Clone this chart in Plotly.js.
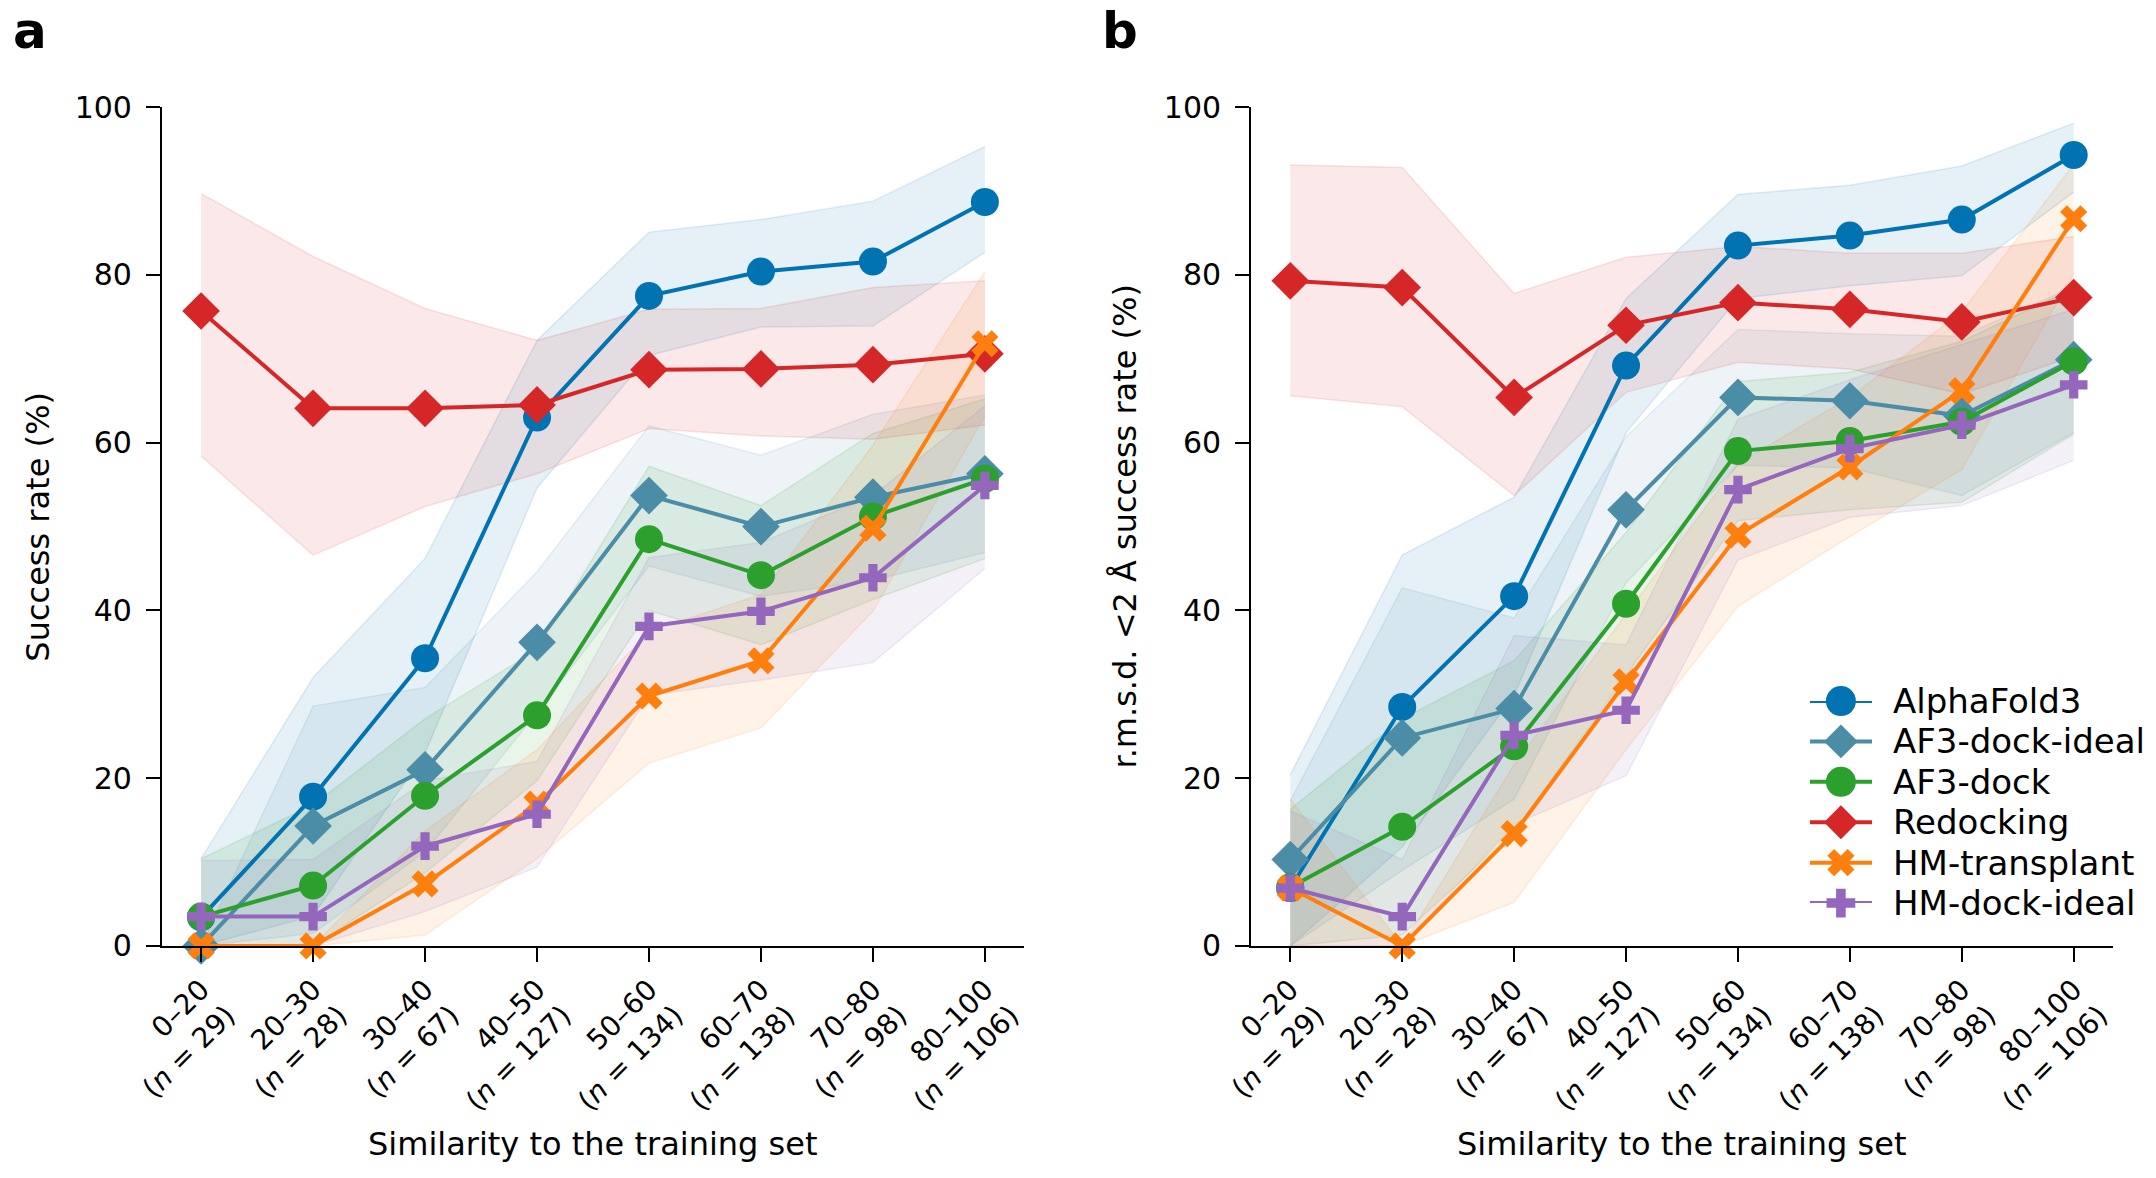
<!DOCTYPE html>
<html>
<head>
<meta charset="utf-8">
<script src="https://cdn.plot.ly/plotly-3.0.1.min.js"></script>
<style>
  html, body { margin: 0; padding: 0; background: #fff; }
  #chart { width: 2156px; height: 1178px; }
</style>
</head>
<body>
<div id="chart"></div>
<script>
// similarity bins and sample sizes (tick labels)
const bins = ["0–20", "20–30", "30–40", "40–50", "50–60", "60–70", "70–80", "80–100"];
const counts = [29, 28, 67, 127, 134, 138, 98, 106];

const methods = ["AlphaFold3", "AF3-dock-ideal", "AF3-dock", "Redocking", "HM-transplant", "HM-dock-ideal"];
const colors = ["#0173b2", "#4b8ca6", "#2ca02c", "#d62728", "#ff7f0e", "#9467bd"];
const symbols = ["circle", "diamond", "circle", "diamond", "x", "cross"];
const sizes = [28, 29, 28, 29, 24, 23];
const legend_sizes = [30, 26, 30, 26, 24, 24];

// panel a: success rate (%), with lower / upper band
const a_af3 = [3.4, 17.8, 34.3, 63.0, 77.5, 80.4, 81.6, 88.7];
const a_af3_lo = [0, 3.6, 23.0, 54.6, 70.4, 73.8, 73.9, 82.7];
const a_af3_hi = [10.4, 32.0, 46.2, 72.2, 85.1, 86.6, 88.8, 95.3];
const a_ideal = [0, 14.3, 21.0, 36.2, 53.7, 50.0, 53.5, 56.3];
const a_ideal_lo = [0, 1.5, 11.2, 27.8, 45.3, 41.7, 43.6, 46.9];
const a_ideal_hi = [0, 28.6, 30.8, 44.6, 62.0, 58.5, 63.4, 65.7];
const a_dock = [3.5, 7.2, 17.9, 27.5, 48.5, 44.2, 51.2, 55.7];
const a_dock_lo = [0, 0, 8.7, 19.7, 40.0, 35.9, 41.3, 46.2];
const a_dock_hi = [10.4, 16.8, 27.1, 35.3, 57.2, 52.5, 61.1, 65.2];
const a_redock = [75.7, 64.1, 64.1, 64.5, 68.7, 68.8, 69.3, 70.6];
const a_redock_lo = [58.4, 46.6, 52.4, 56.3, 61.7, 60.8, 60.4, 62.1];
const a_redock_hi = [89.7, 82.2, 76.0, 72.2, 75.9, 76.0, 78.5, 79.3];
const a_hmt = [0, 0, 7.4, 16.9, 29.8, 34.0, 49.8, 71.8];
const a_hmt_lo = [0, 0, 1.3, 10.4, 21.8, 26.0, 39.9, 63.2];
const a_hmt_hi = [0, 0, 13.7, 23.4, 37.5, 41.9, 59.7, 80.4];
const a_hmd = [3.5, 3.5, 11.9, 15.7, 38.1, 39.9, 43.9, 54.9];
const a_hmd_lo = [0, 0, 4.1, 9.4, 29.9, 31.7, 33.8, 45.0];
const a_hmd_hi = [10.2, 10.3, 19.7, 22.0, 46.3, 48.1, 53.7, 64.4];

// panel b: r.m.s.d. < 2 Å success rate (%)
const b_af3 = [6.9, 28.5, 41.7, 69.2, 83.5, 84.7, 86.6, 94.3];
const b_af3_lo = [0, 11.8, 29.9, 61.2, 77.2, 78.7, 79.9, 89.9];
const b_af3_hi = [20.4, 46.6, 53.5, 77.2, 89.6, 90.7, 93.0, 98.1];
const b_ideal = [10.3, 24.8, 28.3, 52.0, 65.4, 65.0, 63.2, 69.9];
const b_ideal_lo = [0, 9.0, 17.5, 43.3, 57.3, 57.0, 53.7, 61.2];
const b_ideal_hi = [17.3, 42.7, 39.1, 60.7, 73.5, 73.0, 72.7, 78.6];
const b_dock = [7.0, 14.2, 23.8, 40.8, 59.0, 60.2, 62.5, 69.7];
const b_dock_lo = [0, 1.3, 13.6, 32.3, 50.7, 52.0, 52.9, 61.0];
const b_dock_hi = [16.3, 27.1, 34.0, 49.3, 67.3, 68.4, 72.1, 78.4];
const b_redock = [79.3, 78.5, 65.4, 74.0, 76.7, 75.9, 74.4, 77.3];
const b_redock_lo = [65.6, 64.3, 53.7, 66.0, 69.6, 68.8, 65.8, 70.3];
const b_redock_hi = [93.1, 92.8, 77.8, 82.1, 83.4, 82.6, 82.6, 84.6];
const b_hmt = [6.9, 0, 13.4, 31.5, 49.0, 57.1, 66.2, 86.7];
const b_hmt_lo = [0, 0, 5.2, 23.4, 40.5, 48.8, 56.8, 80.2];
const b_hmt_hi = [17.5, 0, 21.6, 39.6, 57.5, 65.4, 75.6, 93.2];
const b_hmd = [6.9, 3.5, 25.1, 28.1, 54.4, 59.3, 62.1, 66.9];
const b_hmd_lo = [0, 0, 14.5, 20.3, 46.0, 51.1, 52.5, 57.9];
const b_hmd_hi = [16.1, 10.3, 37.0, 35.9, 62.8, 67.5, 71.7, 75.9];

const panel_a = [
    [a_af3, a_af3_lo, a_af3_hi], [a_ideal, a_ideal_lo, a_ideal_hi], [a_dock, a_dock_lo, a_dock_hi],
    [a_redock, a_redock_lo, a_redock_hi], [a_hmt, a_hmt_lo, a_hmt_hi], [a_hmd, a_hmd_lo, a_hmd_hi],
];
const panel_b = [
    [b_af3, b_af3_lo, b_af3_hi], [b_ideal, b_ideal_lo, b_ideal_hi], [b_dock, b_dock_lo, b_dock_hi],
    [b_redock, b_redock_lo, b_redock_hi], [b_hmt, b_hmt_lo, b_hmt_hi], [b_hmd, b_hmd_lo, b_hmd_hi],
];

const FONT = "'DejaVu Sans', 'Noto Sans', sans-serif";
const labels = bins.map((b, i) => b + "<br>(<i>n</i> = " + counts[i] + ")");

function rgba(hex, a) {
    let r = parseInt(hex.slice(1, 3), 16), g = parseInt(hex.slice(3, 5), 16), b = parseInt(hex.slice(5, 7), 16);
    return "rgba(" + r + "," + g + "," + b + "," + a + ")";
}

function panel_traces(panel, xa, ya) {
    let bands = [];
    let lines = [];
    panel.forEach(([y, lo, hi], k) => {
        let edge = {color: rgba(colors[k], 0.12), width: 1.5};
        bands.push({x: labels, y: lo, xaxis: xa, yaxis: ya, mode: "lines", line: edge,
                    showlegend: false, hoverinfo: "skip"});
        bands.push({x: labels, y: hi, xaxis: xa, yaxis: ya, mode: "lines", line: edge,
                    fill: "tonexty", fillcolor: rgba(colors[k], 0.1), showlegend: false, hoverinfo: "skip"});
        lines.push({
            x: labels, y: y, xaxis: xa, yaxis: ya, name: methods[k],
            showlegend: false, mode: "lines+markers", cliponaxis: false,
            line: {color: colors[k], width: 4},
            marker: {symbol: symbols[k], size: sizes[k], color: colors[k], opacity: 1, line: {width: 0}},
        });
    });
    return bands.concat(lines);
}

// legend key on a hidden axis: row = method index, a short line with the marker in its middle
function legend_traces() {
    let keys = [];
    methods.forEach((m, k) => {
        keys.push({
            x: [0, 1], y: [k, k], xaxis: "x3", yaxis: "y3", showlegend: false, hoverinfo: "skip",
            mode: "lines", cliponaxis: false, line: {color: colors[k], width: 4},
        });
        keys.push({
            x: [0.5], y: [k], xaxis: "x3", yaxis: "y3", showlegend: false, hoverinfo: "skip",
            mode: "markers", cliponaxis: false,
            marker: {symbol: symbols[k], size: legend_sizes[k], color: colors[k], opacity: 1, line: {width: 0}},
        });
    });
    return keys;
}

let data = panel_traces(panel_a, "x", "y")
    .concat(panel_traces(panel_b, "x2", "y2"))
    .concat(legend_traces());

function xaxis(domain, anchor) {
    return {
        domain: domain, anchor: anchor, type: "category", range: [-0.35, 7.35],
        showline: true, linecolor: "#000", linewidth: 2, ticks: "outside", ticklen: 14, tickwidth: 2,
        tickcolor: "#000", tickangle: -45, showgrid: false, zeroline: false, automargin: false,
        tickfont: {family: FONT, size: 28, color: "#000"},
    };
}
function yaxis(anchor) {
    return {
        domain: [0.197, 0.909], anchor: anchor, range: [0, 100], tickvals: [0, 20, 40, 60, 80, 100],
        showline: true, linecolor: "#000", linewidth: 2, ticks: "outside", ticklen: 14, tickwidth: 2,
        tickcolor: "#000", showgrid: false, zeroline: false, automargin: false, ticklabelstandoff: 8,
        tickfont: {family: FONT, size: 30, color: "#000"},
    };
}
let hidden = {visible: false, showgrid: false, zeroline: false, fixedrange: true};

let title_font = {family: FONT, size: 32, color: "#000"};
let legend_font = {family: FONT, size: 34, color: "#000"};
let annotations = [
    {text: "<b>a</b>", x: 0.005, y: 1.0, xref: "paper", yref: "paper", xanchor: "left", yanchor: "top",
     showarrow: false, font: {family: "'DejaVu Sans', sans-serif", size: 50, color: "#000"}},
    {text: "<b>b</b>", x: 0.510, y: 1.0, xref: "paper", yref: "paper", xanchor: "left", yanchor: "top",
     showarrow: false, font: {family: "'DejaVu Sans', sans-serif", size: 50, color: "#000"}},
    {text: "Success rate (%)", x: 0.0172, y: 0.553, xref: "paper", yref: "paper", textangle: -90,
     xanchor: "center", yanchor: "middle", showarrow: false, font: title_font},
    {text: "r.m.s.d. &lt;2 Å success rate (%)", x: 0.5218, y: 0.553, xref: "paper", yref: "paper",
     textangle: -90, xanchor: "center", yanchor: "middle", showarrow: false, font: title_font},
    {text: "Similarity to the training set", x: 0.275, y: 0.029, xref: "paper", yref: "paper",
     xanchor: "center", yanchor: "middle", showarrow: false, font: title_font},
    {text: "Similarity to the training set", x: 0.780, y: 0.029, xref: "paper", yref: "paper",
     xanchor: "center", yanchor: "middle", showarrow: false, font: title_font},
];
methods.forEach((m, k) => annotations.push({
    text: m, x: 0.8772, y: k, xref: "paper", yref: "y3", xanchor: "left", yanchor: "middle",
    showarrow: false, font: legend_font,
}));

let layout = {
    width: 2156, height: 1178,
    margin: {l: 0, r: 0, t: 0, b: 0},
    paper_bgcolor: "#fff", plot_bgcolor: "rgba(0,0,0,0)",
    showlegend: false,
    xaxis: xaxis([0.0751, 0.475], "y"),
    yaxis: yaxis("x"),
    xaxis2: xaxis([0.5803, 0.980], "y2"),
    yaxis2: yaxis("x2"),
    xaxis3: Object.assign({domain: [0.8394, 0.8683], anchor: "y3", range: [0, 1]}, hidden),
    yaxis3: Object.assign({domain: [0.2334, 0.4049], anchor: "x3", range: [5, 0]}, hidden),
    annotations: annotations,
};

Plotly.newPlot("chart", data, layout, {staticPlot: true});
</script>
</body>
</html>
